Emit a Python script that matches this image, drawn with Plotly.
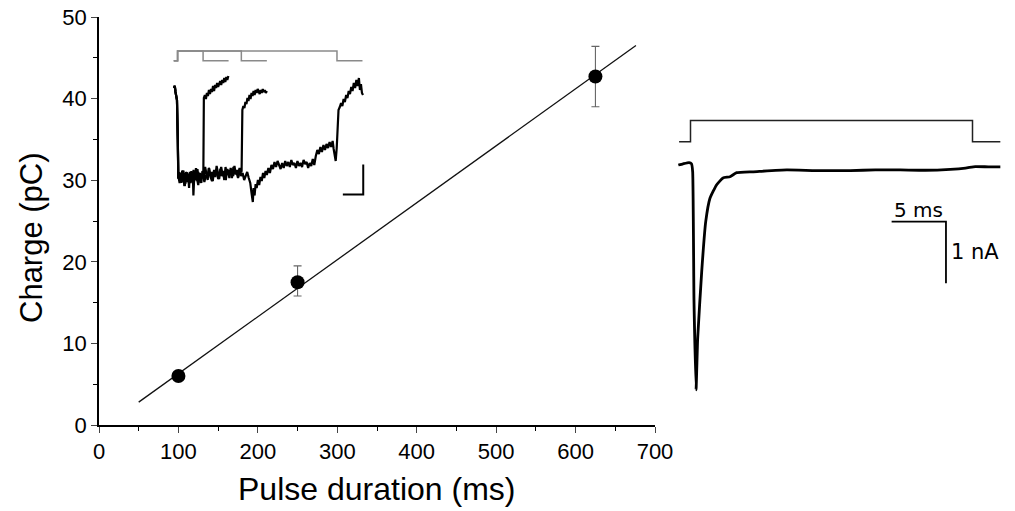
import plotly.graph_objects as go

# ---------------- main data ----------------
pulse_ms = [100, 250, 625]
charge_pc = [6.0, 17.5, 42.7]
err_plus = [0.0, 2.0, 3.7]
err_minus = [0.0, 1.7, 3.7]
fit_x = [50, 676]
fit_y = [2.8, 46.5]
x_ticks = [0, 100, 200, 300, 400, 500, 600, 700]
y_ticks = [0, 10, 20, 30, 40, 50]

# ---------------- inset 1 (three pulses) ----------------
stim1_t = [-15, 0, 0, 100, 100, 200]
stim2_t = [-15, 0, 0, 250, 250, 350]
stim3_t = [-15, 0, 0, 625, 625, 725]
stim_level = [0, 0, 1, 1, 0, 0]

pre_t = [-14.1, -11, -8.2, -5.1, -2.4, 0.8, 2.7]
pre_i = [0, 4, -8, -16, -24, -104, -180]

trA_t = pre_t + [3, 6, 9, 12, 15, 18, 21, 24, 27, 30, 33, 36, 39, 42, 45, 48, 51, 54, 57, 60,
                 62, 66, 69, 72, 75, 78, 81, 84, 87, 90, 93, 96, 99, 101,
                 103, 107, 111, 115, 119, 123, 127, 131, 135, 139, 143, 147, 151, 155, 159,
                 163, 167, 171, 175, 179, 183, 187, 191, 195, 199]
trA_i = pre_i + [-180, -168, -186, -172, -190, -165, -178, -184, -170, -192, -175, -168, -188, -176,
                 -200, -172, -180, -166, -185, -178, -215, -170, -182, -160, -176, -186, -168, -180,
                 -174, -190, -172, -178, -176, -170,
                 -20, -14, -22, -10, -16, -4, -12, -2, -8, 4, -6, 6, 0, 10, 2, 8, 14, 6, 16, 10,
                 20, 12, 22, 16, 24]

trB_t = pre_t + [3, 8, 13, 18, 23, 28, 33, 38, 43, 48, 53, 58, 63, 68, 73, 78, 83, 88, 93, 98,
                 103, 108, 113, 118, 123, 128, 133, 138, 143, 148, 153, 158, 163, 168, 173, 178,
                 183, 188, 193, 198, 203, 208, 213, 218, 223, 228, 233, 238, 243, 248, 251,
                 254, 258, 262, 266, 270, 274, 278, 282, 286, 290, 294, 298, 302, 306, 310,
                 314, 318, 322, 326, 330, 334, 338, 342, 346, 350]
trB_i = pre_i + [-176, -190, -170, -184, -165, -196, -178, -172, -188, -168, -182, -176, -194, -170,
                 -180, -162, -186, -174, -190, -166, -178, -158, -172, -184, -160, -176, -168, -186,
                 -164, -178, -156, -172, -182, -162, -176, -166, -184, -158, -174, -164, -180, -160,
                 -170, -176, -156, -172, -164, -178, -160, -168, -166,
                 -44, -36, -40, -28, -32, -20, -26, -14, -22, -10, -16, -6, -14, -4, -10, -2, -8,
                 -12, -4, -10, -2, -8, -4, -10, -6]

trC_t = pre_t + [3, 9, 15, 21, 27, 33, 39, 45, 51, 57, 63, 69, 75, 81, 87, 93, 99, 105, 111, 117,
                 123, 129, 135, 141, 147, 153, 159, 165, 171, 177, 183, 189, 195, 201, 207, 213,
                 219, 225, 231, 237, 243, 249, 255, 261, 267, 273, 279,
                 285, 290, 295, 298, 302, 306, 310, 315, 320, 325, 330, 335, 340, 345, 350, 356,
                 362, 368, 374, 380, 386, 392, 398, 404, 410, 416, 422, 428, 434, 440, 446, 452,
                 458, 464, 470, 476, 482, 488, 494, 500, 506, 512, 518, 524, 530, 536, 542, 548,
                 554, 560, 566, 572, 578, 584, 590, 596, 602, 608, 612, 616, 620, 624, 627, 631,
                 636, 641, 646, 651, 656, 661, 666, 671, 676, 681, 686, 691, 696, 701, 706, 711,
                 715, 719, 723, 727]
trC_i = pre_i + [-182, -170, -188, -174, -196, -168, -180, -172, -190, -176, -164, -184, -178, -194,
                 -170, -182, -166, -188, -174, -180, -160, -178, -186, -168, -176, -162, -182, -170,
                 -158, -176, -168, -184, -162, -174, -166, -180, -158, -172, -168, -180, -162, -176,
                 -170, -184, -174, -168, -180,
                 -190, -210, -228, -200, -215, -192, -200, -184, -194, -178, -186, -170, -180, -166,
                 -174, -160, -170, -154, -162, -148, -158, -146, -156, -162, -150, -160, -146, -156,
                 -148, -158, -144, -154, -150, -160, -146, -156, -150, -158, -144, -152, -148, -160,
                 -150, -156, -142, -154, -136, -124, -132, -118, -128, -114, -124, -112, -120, -108,
                 -118, -106, -122, -140, -146, -120, -74, -44,
                 -38, -30, -36, -22, -28, -14, -20, -6, -12, 2, -6, 10, 0, 16, 4, 20, -4, 8, -10, -14]

sb1_corner = (728, -213)
sb1_len_t = 80
sb1_len_i = 60

# ---------------- inset 2 (single current) ----------------
stim_b_t = [-1.05, 0, 0, 25.94, 25.94, 28.5]
stim_b_v = [0, 0, 1, 1, 0, 0]
cur_b_t = [-1.12, -0.69, -0.14, 0.09, 0.2, 0.32, 0.51, 0.66, 1.03, 1.40, 1.79, 2.41, 2.99, 3.63,
           4.25, 5.78, 8.85, 11.5, 14.7, 17.0, 19.3, 21.6, 23.9, 25.3, 26.2, 27.4, 28.5]
cur_b_i = [0, 0.02, 0.04, 0.02, -0.11, -2.19, -3.65, -2.81, -1.73, -0.92, -0.54, -0.32, -0.21,
           -0.19, -0.125, -0.11, -0.08, -0.09, -0.09, -0.08, -0.08, -0.085, -0.07, -0.05, -0.025,
           -0.03, -0.03]
sb2_corner = (23.5, -0.92)
sb2_len_t = 5
sb2_len_i = 1

# ---------------- layout helpers ----------------
W, H = 1015, 511


def dom_x(a, b):
    return [a / W, b / W]


def dom_y(top, bottom):
    return [1 - bottom / H, 1 - top / H]


def px(x, y):
    return x / W, 1 - y / H


fig = go.Figure()

# main fit line
fig.add_trace(go.Scatter(x=fit_x, y=fit_y, mode="lines",
                         line=dict(color="#111111", width=1.3), hoverinfo="skip"))
# main data points
fig.add_trace(go.Scatter(
    x=pulse_ms, y=charge_pc, mode="markers",
    marker=dict(color="black", size=14),
    error_y=dict(type="data", array=err_plus, arrayminus=err_minus,
                 color="#666666", thickness=1.1, width=4)))

# inset 1 stimulus (gray)
for st in (stim1_t, stim2_t, stim3_t):
    fig.add_trace(go.Scatter(x=st, y=stim_level, mode="lines", xaxis="x2", yaxis="y3",
                             line=dict(color="#8a8a8a", width=1.5), hoverinfo="skip"))
# inset 1 currents
for tt, ii in ((trC_t, trC_i), (trB_t, trB_i), (trA_t, trA_i)):
    fig.add_trace(go.Scatter(x=tt, y=ii, mode="lines", xaxis="x2", yaxis="y2",
                             line=dict(color="black", width=2.2), hoverinfo="skip"))
# inset 1 scale bar
fig.add_trace(go.Scatter(
    x=[sb1_corner[0] - sb1_len_t, sb1_corner[0], sb1_corner[0]],
    y=[sb1_corner[1], sb1_corner[1], sb1_corner[1] + sb1_len_i],
    mode="lines", xaxis="x2", yaxis="y2", line=dict(color="black", width=2)))

# inset 2 stimulus
fig.add_trace(go.Scatter(x=stim_b_t, y=stim_b_v, mode="lines", xaxis="x3", yaxis="y5",
                         line=dict(color="#222222", width=1.5), hoverinfo="skip"))
# inset 2 current
fig.add_trace(go.Scatter(x=cur_b_t, y=cur_b_i, mode="lines", xaxis="x3", yaxis="y4",
                         line=dict(color="black", width=2.8, shape="spline", smoothing=0.4),
                         hoverinfo="skip"))
# inset 2 scale bar
fig.add_trace(go.Scatter(
    x=[sb2_corner[0] - sb2_len_t, sb2_corner[0], sb2_corner[0]],
    y=[sb2_corner[1], sb2_corner[1], sb2_corner[1] - sb2_len_i],
    mode="lines", xaxis="x3", yaxis="y4", line=dict(color="black", width=1.8)))

hidden = dict(visible=False, showgrid=False, zeroline=False, fixedrange=True)

tx, ty = px(376, 489)
cx, cy = px(31, 238)

fig.update_layout(
    width=W, height=H, margin=dict(l=0, r=0, t=0, b=0, pad=0, autoexpand=False),
    paper_bgcolor="white", plot_bgcolor="rgba(0,0,0,0)",
    showlegend=False, hovermode=False,
    font=dict(family="Liberation Sans, Arial, sans-serif", color="black"),
    xaxis=dict(domain=dom_x(99, 655), range=[0, 700], tickvals=x_ticks,
               ticks="outside", ticklen=6, tickwidth=1.3, showline=True,
               linecolor="black", linewidth=1.5, showgrid=False, zeroline=False,
               tickfont=dict(size=22), automargin=False, ticklabeloverflow="allow",
               minor=dict(dtick=50, ticks="outside", ticklen=4, tickwidth=1.2,
                          tickcolor="black")),
    yaxis=dict(domain=dom_y(17, 425), range=[0, 50], tickvals=y_ticks,
               ticks="outside", ticklen=6, tickwidth=1.3, showline=True,
               linecolor="black", linewidth=1.5, showgrid=False, zeroline=False,
               tickfont=dict(size=22), automargin=False, ticklabeloverflow="allow",
               minor=dict(dtick=5, ticks="outside", ticklen=4, tickwidth=1.2,
                          tickcolor="black")),
    xaxis2=dict(domain=dom_x(168, 370), range=[-37.6, 754.5], anchor="y2", **hidden),
    yaxis2=dict(domain=dom_y(70, 210), range=[-244, 36], anchor="x2", **hidden),
    yaxis3=dict(domain=dom_y(45, 67), range=[-0.65, 1.619], anchor="x2", **hidden),
    xaxis3=dict(domain=dom_x(675, 1005), range=[-1.426, 28.93], anchor="y4", **hidden),
    yaxis4=dict(domain=dom_y(150, 400), range=[-3.815, 0.2435], anchor="x3", **hidden),
    yaxis5=dict(domain=dom_y(110, 150), range=[-0.392, 1.495], anchor="x3", **hidden),
    annotations=[
        dict(text="Pulse duration (ms)", x=tx, y=ty, xref="paper", yref="paper",
             showarrow=False, xanchor="center", yanchor="middle", font=dict(size=32)),
        dict(text="Charge (pC)", x=cx, y=cy, xref="paper", yref="paper",
             showarrow=False, xanchor="center", yanchor="middle", textangle=-90,
             font=dict(size=31)),
        dict(text="5 ms", x=sb2_corner[0] - sb2_len_t / 2, y=sb2_corner[1], xref="x3",
             yref="y4", showarrow=False, xanchor="center", yanchor="bottom", yshift=-2,
             font=dict(family="DejaVu Sans, sans-serif", size=20)),
        dict(text="1 nA", x=sb2_corner[0], y=sb2_corner[1] - sb2_len_i / 2, xref="x3",
             yref="y4", showarrow=False, xanchor="left", yanchor="middle", xshift=3,
             font=dict(family="DejaVu Sans, sans-serif", size=21)),
    ],
)

fig.write_html("out.html", config={"displayModeBar": False},
               post_script="document.body.style.margin='0px';document.body.style.overflow='hidden';")
